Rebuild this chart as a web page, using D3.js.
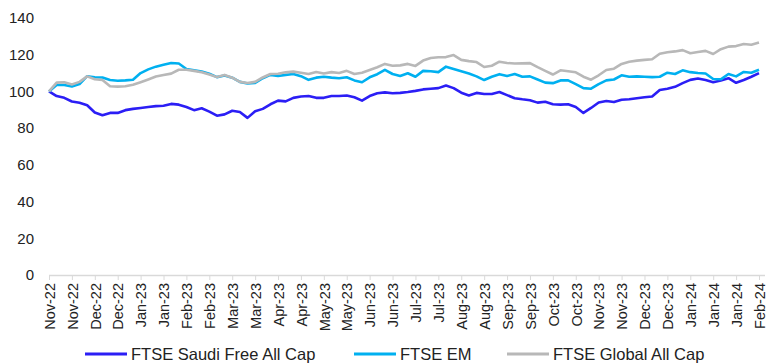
<!DOCTYPE html>
<html>
<head>
<meta charset="utf-8">
<script src="https://cdn.jsdelivr.net/npm/d3@7"></script>
<style>
  body { margin: 0; background: #fff; }
  svg { display: block; font-family: Arial, "Liberation Sans", sans-serif; }
</style>
</head>
<body>
<div id="chart"></div>
<script>
// x axis labels, one per tick (every 3 data points)
const tickLabels = ["Nov-22", "Nov-22", "Dec-22", "Dec-22", "Jan-23", "Jan-23", "Feb-23", "Feb-23",
    "Mar-23", "Mar-23", "Apr-23", "Apr-23", "May-23", "May-23", "Jun-23", "Jun-23",
    "Jul-23", "Jul-23", "Aug-23", "Aug-23", "Sep-23", "Sep-23", "Oct-23", "Oct-23",
    "Nov-23", "Nov-23", "Dec-23", "Dec-23", "Jan-24", "Jan-24", "Jan-24", "Feb-24"];

const seriesNames = ["FTSE Saudi Free All Cap", "FTSE EM", "FTSE Global All Cap"];

const saudi = [100, 97.5, 96.5, 94.5, 93.8, 92.5, 88.5, 87, 88.3, 88.3, 89.8, 90.5, 91, 91.5, 92, 92.2,
    93.2, 92.8, 91.5, 89.8, 90.8, 89, 86.8, 87.5, 89.5, 88.8, 85.6, 89.2, 90.5, 93, 95, 94.6,
    96.5, 97.2, 97.5, 96.5, 96.5, 97.5, 97.5, 97.8, 96.8, 95, 97.5, 99, 99.5, 99, 99.2, 99.7,
    100.3, 101.1, 101.5, 101.8, 103.2, 101.8, 99.3, 97.8, 99.2, 98.6, 98.6, 99.7, 98, 96.3, 95.7, 95.2,
    93.9, 94.4, 93, 92.8, 93, 91.5, 88.3, 91, 94, 94.8, 94.2, 95.5, 95.7, 96.3, 96.8, 97.2,
    100.8, 101.5, 102.5, 104.5, 106.3, 107, 106.2, 105, 106, 107.2, 104.7, 106.2, 108, 110];

const em = [100, 103.5, 103.5, 102.7, 104, 108.3, 107.7, 107.6, 106.2, 105.8, 106, 106.4, 110, 112, 113.5, 114.5,
    115.5, 115.2, 112.2, 111.5, 110.8, 109.6, 107.8, 108.7, 107.5, 105.2, 104.3, 104.6, 107.2, 109, 108.4, 109,
    109.5, 108.3, 106.3, 107.5, 108, 107.5, 107.2, 107.7, 106, 105, 107.7, 109.4, 111.8, 109.5, 108.4, 109.9,
    108, 111.2, 111, 110.5, 113.5, 112.2, 111, 109.8, 108.2, 106.2, 108, 109.4, 108.4, 109.5, 108, 108.2,
    106.5, 104.8, 104.5, 106, 106, 104, 101.8, 101.5, 104, 106, 106.5, 108.8, 108, 108.2, 108, 107.8,
    108, 110.2, 109.5, 111.5, 110.5, 110, 109.8, 106.8, 106.6, 109.5, 108.2, 110.6, 110.2, 111.8];

const globalCap = [100, 104.8, 105, 103.8, 105.2, 108.2, 106.6, 106.2, 102.8, 102.6, 102.8, 103.6, 105, 106.5, 108.1, 109,
    109.7, 111.8, 111.8, 111.2, 110.4, 109.2, 107.8, 109, 107.5, 105.2, 104.6, 105.2, 107.6, 109.5, 109.6, 110.4,
    110.8, 110.2, 109.5, 110.6, 109.8, 110.5, 110, 111.2, 109.5, 110.2, 111.7, 113.2, 115, 114, 114.2, 115,
    113.9, 116.8, 118.2, 118.6, 118.7, 119.8, 117.2, 116.5, 116, 113.3, 114, 116.2, 115.5, 115.2, 115.3, 115.4,
    113.2, 111.2, 109.2, 111.5, 111, 110.4, 108, 106.4, 108.8, 111.7, 112.4, 115, 116.2, 116.8, 117.2, 117.5,
    120.5, 121.3, 121.8, 122.5, 120.8, 121.5, 122.1, 120.4, 123, 124.4, 124.7, 125.8, 125.4, 126.6];

const yTicks = [0, 20, 40, 60, 80, 100, 120, 140];

const colors = ["#2B1EF5", "#00B0F0", "#B8B8B8"];
const allSeries = [saudi, em, globalCap];

const width = 767, height = 363;

const svg = d3.select("#chart")
    .append("svg")
    .attr("width", width)
    .attr("height", height);

const x = d3.scaleLinear()
    .domain([0, saudi.length - 1])
    .range([49, 759]);

const y = d3.scaleLinear()
    .domain([0, 140])
    .range([275, 18]);

// y labels, no axis line
svg.append("g")
    .attr("transform", "translate(49,0)")
    .call(d3.axisLeft(y).tickValues(yTicks).tickSize(0).tickPadding(15))
    .call(g => g.select(".domain").remove())
    .selectAll("text")
    .attr("font-family", "Arial, 'Liberation Sans', sans-serif")
    .attr("font-size", "15px")
    .attr("fill", "#222");

// x axis with rotated labels
const xAxis = svg.append("g")
    .attr("transform", "translate(0,275)")
    .call(d3.axisBottom(x)
        .tickValues(d3.range(tickLabels.length).map(i => i * 3))
        .tickFormat((d, i) => tickLabels[i])
        .tickSizeOuter(0)
        .tickSize(5));

xAxis.select(".domain")
    .attr("stroke", "#d9d9d9")
    .attr("stroke-width", 1.5)
    .attr("d", "M49,0.5H765");
xAxis.selectAll(".tick line").attr("stroke", "#d9d9d9");

xAxis.selectAll("text")
    .attr("font-family", "Arial, 'Liberation Sans', sans-serif")
    .attr("font-size", "14.5px")
    .attr("fill", "#222")
    .attr("text-anchor", "end")
    .attr("transform", "rotate(-90)")
    .attr("x", -8)
    .attr("y", 0)
    .attr("dy", "0.36em");

const line = d3.line()
    .x((d, i) => x(i))
    .y(d => y(d));

allSeries.forEach((s, k) => {
    svg.append("path")
        .datum(s)
        .attr("fill", "none")
        .attr("stroke", colors[k])
        .attr("stroke-width", 2.6)
        .attr("stroke-linejoin", "round")
        .attr("d", line);
});

// legend
const legendX = [85, 354, 507];
const legend = svg.append("g").attr("transform", "translate(0,354)");

seriesNames.forEach((name, k) => {
    legend.append("line")
        .attr("x1", legendX[k])
        .attr("x2", legendX[k] + 42)
        .attr("stroke", colors[k])
        .attr("stroke-width", 3);
    legend.append("text")
        .attr("x", legendX[k] + 46)
        .attr("dy", "0.35em")
        .attr("font-size", "16.5px")
        .attr("fill", "#222")
        .text(name);
});
</script>
</body>
</html>
